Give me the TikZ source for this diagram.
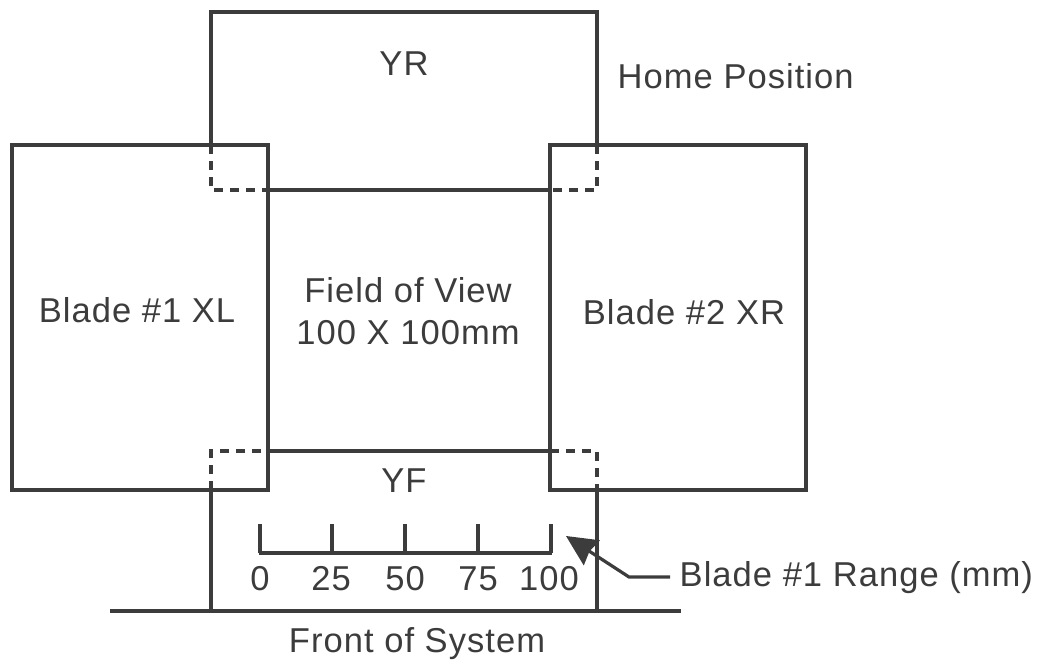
\documentclass[tikz,border=0pt]{standalone}
\usepackage{fontspec}
\setmainfont[LetterSpace=3]{Liberation Sans}
\usepackage{xcolor}
\usetikzlibrary{calc,positioning,arrows.meta}
\definecolor{figInk}{HTML}{3C3C3C}

\begin{document}
\begin{tikzpicture}[
  x=0.75pt, y=-0.75pt,
  every node/.style={font=\fontsize{25.9}{30}\selectfont, text=figInk},
  blade/.style={rectangle, draw=figInk, line width=2.8pt, minimum width=192pt, minimum height=258.75pt, inner sep=0pt},
  edge/.style={draw=figInk, line width=2.8pt},
  overlap/.style={draw=figInk, line width=2.4pt, dash pattern=on 7pt off 5pt},
  thinedge/.style={draw=figInk, line width=2.4pt},
  pointer/.style={-{Stealth[length=23pt, width=22pt, inset=2pt]}, draw=figInk, line width=2.4pt},
]
\useasboundingbox (0,0) rectangle (1040,664);
\fill[white] (0,0) rectangle (1040,664);

% === Blades ===
\node[blade] (blade-xl) at (140, 317.5) {};
\node[blade] (blade-xr) at (678, 317.5) {};
\node at (137, 310) {Blade \#1 XL};
\node at (684, 312) {Blade \#2 XR};

% === Rear and front blades ===
\coordinate (yr-a) at (211, 145);
\coordinate (yr-b) at (211, 12);
\coordinate (yr-c) at (597, 12);
\coordinate (yr-d) at (597, 145);
\coordinate (yr-e) at (597, 190);
\coordinate (yr-f) at (550, 190);
\coordinate (yr-g) at (268, 190);
\coordinate (yr-h) at (211, 190);
\draw[edge] (yr-a) -- (yr-b) -- (yr-c) -- (yr-d);
\draw[edge] (yr-g) -- (yr-f);
\draw[overlap] (yr-a) -- (yr-h) -- (yr-g);
\draw[overlap] (yr-d) -- (yr-e) -- (yr-f);

\coordinate (yf-a) at (211, 490);
\coordinate (yf-b) at (211, 451);
\coordinate (yf-c) at (268, 451);
\coordinate (yf-d) at (550, 451);
\coordinate (yf-e) at (597, 451);
\coordinate (yf-f) at (597, 490);
\coordinate (yf-g) at (597, 610);
\coordinate (yf-h) at (211, 610);
\draw[edge] (yf-c) -- (yf-d);
\draw[overlap] (yf-a) -- (yf-b) -- (yf-c);
\draw[overlap] (yf-d) -- (yf-e) -- (yf-f);
\draw[edge] (yf-a) -- (yf-h);
\draw[edge] (yf-f) -- (yf-g);

% Base line
\coordinate (base-l) at (110, 611);
\coordinate (base-r) at (681, 611);
\draw[edge] (base-l) -- (base-r);

\node (yr-label) at (404, 64) {YR};
\node (yf-label) at (404, 481) {YF};
\node[anchor=west] (home) at (613, 76) {Home Position};
\node[align=center, font=\fontsize{25.9}{32}\selectfont] (fov) at (408, 311) {Field of View\\100 X 100mm};
\node (front) at (417, 644) {Front of System};

% === Scale ===
\foreach \x/\v in {260/0, 332/25, 405/50, 478/75, 551/100} {
  \coordinate (tick-\v) at (\x, 524);
  \coordinate (foot-\v) at (\x, 553);
  \draw[thinedge] (tick-\v) -- (foot-\v);
}
\draw[thinedge] ($(foot-0)+(-1,0)$) -- ($(foot-100)+(1,0)$);
\node (n-0) at (260, 579) {0};
\node (n-25) at (331, 579) {25};
\node (n-50) at (405, 579) {50};
\node (n-75) at (478, 579) {75};
\node (n-100) at (549, 579) {100};

% === Range pointer ===
\node[anchor=west] (range) at (675, 578) {Blade \#1 Range (mm)};
\coordinate (range-start) at (670, 577);
\coordinate (range-bend) at (629, 577);
\coordinate (range-tip) at (566, 536);
\draw[pointer] (range-start) -- (range-bend) -- (range-tip);
\end{tikzpicture}
\end{document}
